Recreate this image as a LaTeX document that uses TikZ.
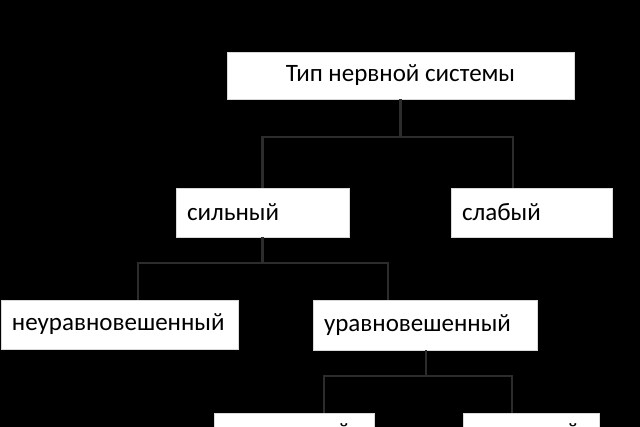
\documentclass[tikz,border=0pt]{standalone}
\usepackage{fontspec}
\setmainfont{Carlito}
\begin{document}
\begin{tikzpicture}[x=1pt,y=-1pt,
  box/.style={fill=white,draw=white!85!black,line width=0.6pt,inner ysep=0pt,inner xsep=11pt,
    font=\fontsize{25}{28}\selectfont,anchor=center},
  lbox/.style={box,align=left},
  raised/.style={text height=18pt,text depth=14pt},
  conn/.style={draw={rgb,255:red,44;green,44;blue,44},line width=2.4pt}]
\useasboundingbox (0,0) rectangle (640,427);
\fill[black] (0,0) rectangle (640,427);
\clip (0,0) rectangle (640,427);
\node[box,minimum width=347pt,minimum height=47pt] (top) at (400.5,75.5) {Тип нервной системы};
\node[lbox,text width=151pt,minimum height=49pt] (sil) at (262.5,212.5) {сильный};
\node[lbox,text width=139pt,minimum height=49pt] (slab) at (531.5,212.5) {слабый};
\node[lbox,text width=215pt,minimum height=49pt] (neur) at (119.5,324.5) {неуравновешенный};
\node[lbox,text width=202pt,minimum height=50pt] (ur) at (425,325) {уравновешенный};
\node[lbox,raised,text width=138pt,minimum height=50pt] (podv) at (294,438) {подвижный};
\node[lbox,raised,text width=114pt,minimum height=50pt] (inert) at (531,438) {инертный};
\draw[conn] (top.south) -- ++(0,38) coordinate (h1);
\draw[conn] (sil.north) |- (h1) -| ([xshift=-18.5pt]slab.north);
\draw[conn] (sil.south) -- ++(0,26) coordinate (h2);
\draw[conn] ([xshift=18.5pt]neur.north) |- (h2) -| ([xshift=-37pt]ur.north);
\draw[conn] ([xshift=1pt]ur.south) -- ++(0,26) coordinate (h3);
\draw[conn] ([xshift=30pt]podv.north) |- (h3) -| ([xshift=-19pt]inert.north);
\end{tikzpicture}
\end{document}
